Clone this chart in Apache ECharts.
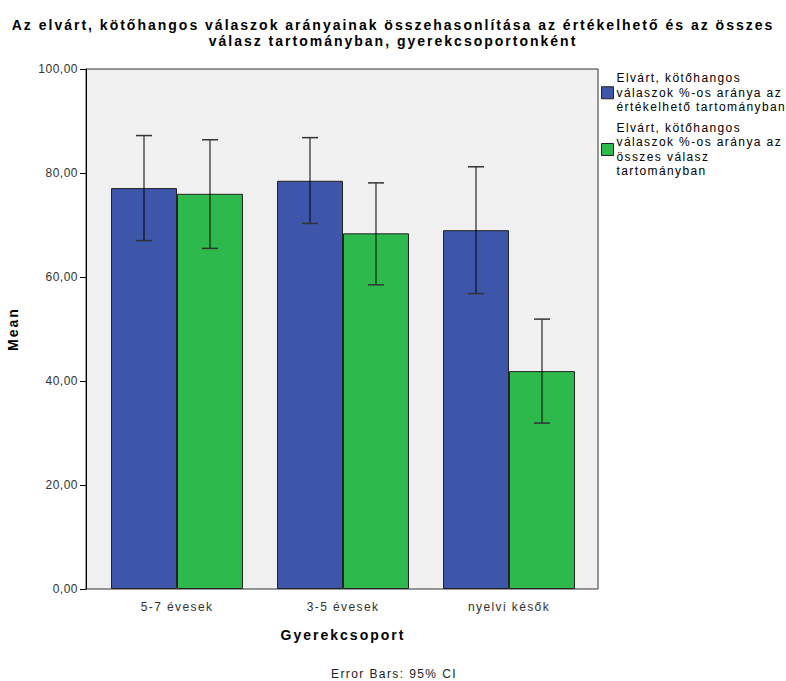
<!DOCTYPE html>
<html><head><meta charset="utf-8">
<script src="https://cdn.jsdelivr.net/npm/echarts@6/dist/echarts.min.js"></script>
<style>
html,body{margin:0;padding:0;background:#fff}#c{width:786px;height:681px}
#c svg text{letter-spacing:1.4px}
#c svg text[text-anchor="end"]{letter-spacing:0.5px}
#c svg text[style*="bold"], #c svg text[font-weight="bold"]{letter-spacing:2px}
</style>
</head><body><div id="c"></div>
<script>
var categories = ['5-7 évesek', '3-5 évesek', 'nyelvi késők'];
var seriesNames = ['Elvárt, kötőhangos válaszok %-os aránya az értékelhető tartományban',
                   'Elvárt, kötőhangos válaszok %-os aránya az összes válasz tartományban'];
var meanEval = [77.1, 78.5, 69.0];
var lowEval = [67.0, 70.3, 56.8];
var highEval = [87.2, 86.8, 81.2];
var meanAll = [76.0, 68.4, 41.9];
var lowAll = [65.5, 58.5, 31.9];
var highAll = [86.4, 78.1, 51.9];
var legendLabels = ['Elvárt, kötőhangos\nválaszok %-os aránya az\nértékelhető tartományban',
                    'Elvárt, kötőhangos\nválaszok %-os aránya az\nösszes válasz\ntartományban'];

var GAP = 0.205;
function errSeries(low, high, idx) {
  var data = categories.map(function (c, i) { return [i, low[i], high[i]]; });
  return {
    type: 'custom', z: 10, silent: true, xAxisIndex: 1, yAxisIndex: 1,
    renderItem: function (params, api) {
      var x = api.value(0);
      var pLow = api.coord([x, api.value(1)]);
      var pHigh = api.coord([x, api.value(2)]);
      var band = api.size([1, 0])[0];
      var bw = band * (1 - GAP) / 2;
      var cx = pLow[0] + (idx === 0 ? -bw / 2 : bw / 2);
      var cap = 8;
      var st = { stroke: '#000', lineWidth: 1 };
      var cs = { stroke: '#333', lineWidth: 1.5 };
      return { type: 'group', children: [
        { type: 'line', shape: { x1: cx, y1: pHigh[1], x2: cx, y2: pLow[1] }, style: st },
        { type: 'line', shape: { x1: cx - cap, y1: pHigh[1], x2: cx + cap, y2: pHigh[1] }, style: cs },
        { type: 'line', shape: { x1: cx - cap, y1: pLow[1], x2: cx + cap, y2: pLow[1] }, style: cs }
      ]};
    },
    encode: { x: 0, y: [1, 2] },
    data: data
  };
}

var chart = echarts.init(document.getElementById('c'), null, { renderer: 'svg' });
chart.setOption({
  animation: false,
  backgroundColor: '#fff',
  textStyle: { fontFamily: 'Liberation Sans, Arial, sans-serif' },
  title: {
    text: 'Az elvárt, kötőhangos válaszok arányainak összehasonlítása az értékelhető és az összes\nválasz tartományban, gyerekcsoportonként',
    left: 'center', top: 12,
    textStyle: { fontSize: 14, fontWeight: 'bold', color: '#000', lineHeight: 16 }
  },
  legend: {
    orient: 'vertical', left: 596, top: 66, itemGap: 6,
    itemWidth: 12, itemHeight: 12,
    data: seriesNames.map(function (n) { return { name: n, icon: 'rect' }; }),
    formatter: function (n) { return legendLabels[seriesNames.indexOf(n)]; },
    textStyle: { fontSize: 12, color: '#000', lineHeight: 14.5, padding: [0, 0, 0, -2] },
    itemStyle: { borderColor: '#222', borderWidth: 1 }
  },
  grid: [
    { left: 86, right: 188, top: 69, bottom: 92, show: true, backgroundColor: '#f0f0f0', borderColor: '#333', borderWidth: 1, outerBoundsMode: 'none', containLabel: false },
    { left: 94, right: 194, top: 69, bottom: 92, show: false, outerBoundsMode: 'none', containLabel: false }
  ],
  xAxis: [
    { type: 'value', gridIndex: 0, show: false, min: 0, max: 1 },
    {
      type: 'category', gridIndex: 1, data: categories,
      name: 'Gyerekcsoport', nameLocation: 'middle', nameGap: 39,
      nameTextStyle: { fontSize: 14, fontWeight: 'bold', color: '#000' },
      axisLine: { show: false },
      axisTick: { alignWithLabel: true, length: 6, lineStyle: { color: '#000' } },
      axisLabel: { fontSize: 12, color: '#333', margin: 12 }
    }
  ],
  yAxis: [
    { type: 'value', gridIndex: 0, show: false, min: 0, max: 1 },
    {
      type: 'value', gridIndex: 1, min: 0, max: 100, interval: 20, offset: 8,
      name: 'Mean', nameLocation: 'middle', nameGap: 66, nameRotate: 90,
      nameTextStyle: { fontSize: 14, fontWeight: 'bold', color: '#000' },
      axisLine: { show: true, lineStyle: { color: '#000' } },
      axisTick: { show: true, length: 6, lineStyle: { color: '#000' } },
      splitLine: { show: false },
      axisLabel: { fontSize: 12, color: '#333', margin: 8, formatter: function (v) { return v.toFixed(2).replace('.', ','); } }
    }
  ],
  graphic: [{ type: 'text', x: 394, y: 668, style: { text: 'Error Bars: 95% CI', textAlign: 'center', fontSize: 12, fill: '#222', fontFamily: 'Liberation Sans, Arial, sans-serif' } }],
  series: [
    { name: seriesNames[0], type: 'bar', xAxisIndex: 1, yAxisIndex: 1, data: meanEval, barGap: '0%', barCategoryGap: '20.5%',
      itemStyle: { color: '#3d56aa', borderColor: '#222', borderWidth: 1 } },
    { name: seriesNames[1], type: 'bar', xAxisIndex: 1, yAxisIndex: 1, data: meanAll, barGap: '0%', barCategoryGap: '20.5%',
      itemStyle: { color: '#2db94b', borderColor: '#222', borderWidth: 1 } },
    errSeries(lowEval, highEval, 0),
    errSeries(lowAll, highAll, 1)
  ]
});
</script></body></html>
